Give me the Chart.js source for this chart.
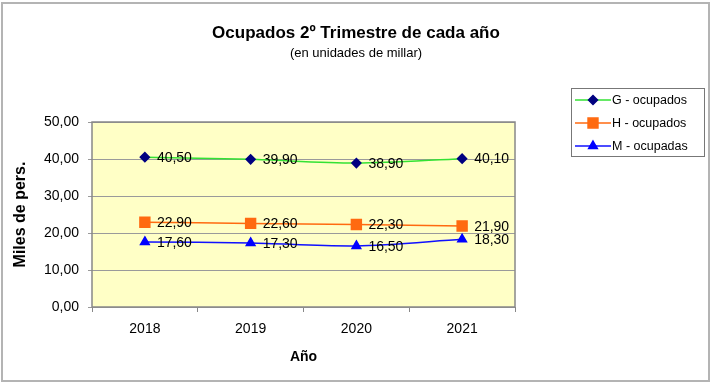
<!DOCTYPE html>
<html>
<head>
<meta charset="utf-8">
<script src="https://cdn.jsdelivr.net/npm/chart.js@4"></script>
<style>
  body { margin: 0; background: #fff; }
  canvas { display: block; }
</style>
</head>
<body>
<canvas id="chart" width="714" height="388"></canvas>
<script>
const years = ['2018', '2019', '2020', '2021'];
const gOcupados = [40.5, 39.9, 38.9, 40.1];
const hOcupados = [22.9, 22.6, 22.3, 21.9];
const mOcupadas = [17.6, 17.3, 16.5, 18.3];
const yTicks = [0, 10, 20, 30, 40, 50];

const titleText = 'Ocupados 2º Trimestre de cada año';
const subtitleText = '(en unidades de millar)';

const fmt = (v) => v.toFixed(2).replace('.', ',');
const sans = "'Liberation Sans', Arial, sans-serif";

function drawText(ctx, text, x, y, font, align) {
  ctx.save();
  ctx.font = font;
  ctx.fillStyle = '#000';
  ctx.textAlign = align;
  ctx.textBaseline = 'middle';
  ctx.fillText(text, x, y);
  ctx.restore();
}

// fondo, marco exterior, titulos y fondo del area de trazado
const background = {
  id: 'background',
  beforeDraw(chart) {
    const { ctx, chartArea: a } = chart;
    ctx.save();
    ctx.fillStyle = '#fff';
    ctx.fillRect(0, 0, chart.width, chart.height);
    ctx.strokeStyle = '#b4b4b4';
    ctx.lineWidth = 2;
    ctx.strokeRect(2, 3, 707, 378);
    ctx.fillStyle = '#ffffc6';
    ctx.fillRect(a.left, a.top, a.right - a.left, a.bottom - a.top);
    ctx.restore();
    drawText(ctx, titleText, 356, 33, 'bold 17px ' + sans, 'center');
    drawText(ctx, subtitleText, 356, 53, '13px ' + sans, 'center');
  },
  beforeDatasetsDraw(chart) {
    const { ctx, chartArea: a } = chart;
    ctx.save();
    ctx.strokeStyle = '#888';
    ctx.lineWidth = 1.5;
    ctx.strokeRect(a.left, a.top, a.right - a.left, a.bottom - a.top);
    ctx.restore();
  }
};

// etiquetas de valor a la derecha de cada punto
const valueLabels = {
  id: 'valueLabels',
  afterDatasetsDraw(chart) {
    const { ctx } = chart;
    ctx.save();
    ctx.font = '14px ' + sans;
    ctx.fillStyle = '#000';
    ctx.textBaseline = 'middle';
    chart.data.datasets.forEach((ds, i) => {
      chart.getDatasetMeta(i).data.forEach((pt, j) => {
        ctx.fillText(fmt(ds.data[j]), pt.x + 12, pt.y + 1);
      });
    });
    ctx.restore();
  }
};

// leyenda con marco, arriba a la derecha
const boxLegend = {
  id: 'boxLegend',
  afterDraw(chart) {
    const { ctx } = chart;
    const x0 = 571, y0 = 88, w = 133, h = 68;
    ctx.save();
    ctx.fillStyle = '#fff';
    ctx.fillRect(x0, y0, w, h);
    ctx.strokeStyle = '#777';
    ctx.lineWidth = 1;
    ctx.strokeRect(x0 + 0.5, y0 + 0.5, w, h);
    chart.data.datasets.forEach((ds, i) => {
      const y = y0 + 12 + i * 23;
      ctx.strokeStyle = ds.borderColor;
      ctx.lineWidth = 1.5;
      ctx.beginPath();
      ctx.moveTo(575, y);
      ctx.lineTo(611, y);
      ctx.stroke();
      ctx.fillStyle = ds.pointBackgroundColor;
      ctx.strokeStyle = ds.pointBorderColor;
      Chart.helpers.drawPoint(ctx, {
        pointStyle: ds.pointStyle,
        radius: ds.pointRadius,
        borderWidth: 1
      }, 593, y);
      drawText(ctx, ds.label, 612, y + 1, '12.5px ' + sans, 'left');
    });
    ctx.restore();
  }
};

new Chart(document.getElementById('chart'), {
  type: 'line',
  data: {
    labels: years,
    datasets: [
      {
        label: 'G - ocupados',
        data: gOcupados,
        borderColor: '#33e233',
        borderWidth: 1.5,
        pointStyle: 'rectRot',
        pointRadius: 4.5,
        pointBackgroundColor: '#000080',
        pointBorderColor: '#000080',
        tension: 0.3
      },
      {
        label: 'H - ocupados',
        data: hOcupados,
        borderColor: '#ff6a10',
        borderWidth: 1.5,
        pointStyle: 'rect',
        pointRadius: 7,
        pointBackgroundColor: '#ff6a10',
        pointBorderColor: '#ff6a10',
        tension: 0.3
      },
      {
        label: 'M - ocupadas',
        data: mOcupadas,
        borderColor: '#1010ff',
        borderWidth: 1.5,
        pointStyle: 'triangle',
        pointRadius: 5,
        pointBackgroundColor: '#0000ff',
        pointBorderColor: '#0000ff',
        tension: 0.3
      }
    ]
  },
  options: {
    responsive: false,
    animation: false,
    events: [],
    layout: { padding: { left: 6, right: 199, top: 122, bottom: 10 } },
    plugins: {
      legend: { display: false },
      tooltip: { enabled: false }
    },
    scales: {
      x: {
        offset: true,
        grid: { offset: true, drawOnChartArea: false, tickLength: 5, color: '#888' },
        border: { display: false },
        ticks: { color: '#000', padding: 9, font: { family: sans, size: 14 } },
        title: {
          display: true,
          text: 'Año',
          color: '#000',
          font: { family: sans, size: 14, weight: 'bold' },
          padding: { top: 0, bottom: 12 }
        },
        afterFit: (s) => { s.height = 71; }
      },
      y: {
        min: 0,
        max: 50,
        afterBuildTicks: (s) => { s.ticks = yTicks.map((v) => ({ value: v })); },
        grid: { color: '#9a9a9a', tickLength: 4 },
        border: { display: false },
        ticks: {
          color: '#000',
          padding: 9,
          font: { family: sans, size: 14 },
          callback: (v) => fmt(v)
        },
        title: {
          display: true,
          text: 'Miles de pers.',
          color: '#000',
          font: { family: sans, size: 16, weight: 'bold' },
          padding: { top: 5, bottom: 0 }
        },
        afterFit: (s) => { s.width = 86; }
      }
    }
  },
  plugins: [background, valueLabels, boxLegend]
});
</script>
</body>
</html>
